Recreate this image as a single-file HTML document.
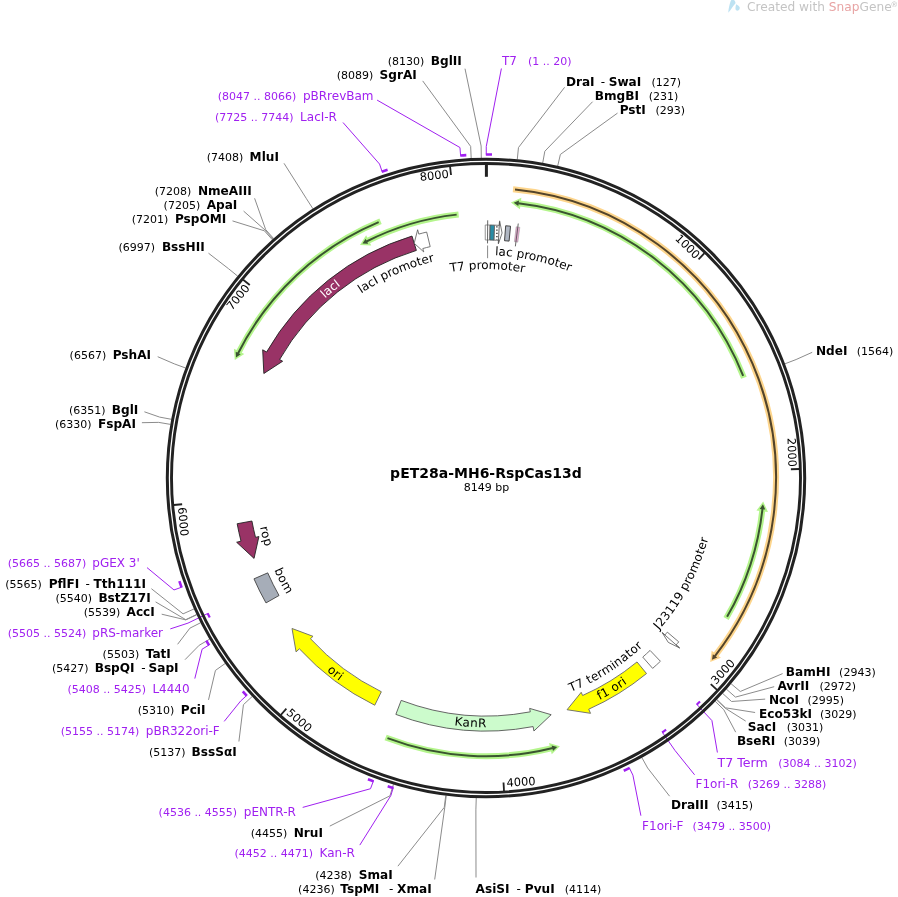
<!DOCTYPE html>
<html><head><meta charset="utf-8"><title>pET28a-MH6-RspCas13d</title>
<style>html,body{margin:0;padding:0;background:#fff;} svg{display:block;will-change:transform;}</style>
</head><body>
<svg width="898" height="897" viewBox="0 0 898 897" font-family="'DejaVu Sans', 'Liberation Sans', sans-serif"><rect width="898" height="897" fill="#fff"/>
<path d="M513.03,189.26 A290.00,290.00 0 0 1 715.04,655.87" fill="none" stroke="#fdd58c" stroke-width="6" stroke-linecap="butt"/>
<polygon points="710.18,661.97 720.87,657.82 711.66,650.76" fill="#fdd58c"/>
<path d="M515.02,189.46 A290.00,290.00 0 0 1 714.74,656.27" fill="none" stroke="#53442a" stroke-width="2"/>
<polygon points="711.94,659.80 717.25,657.59 712.83,654.16" fill="#53442a"/>
<path d="M743.90,377.74 A276.70,276.70 0 0 0 518.66,203.23" fill="none" stroke="#b4f58c" stroke-width="6" stroke-linecap="butt"/>
<polygon points="510.90,202.42 521.37,197.72 519.92,209.23" fill="#b4f58c"/>
<path d="M743.17,375.88 A276.70,276.70 0 0 0 518.16,203.18" fill="none" stroke="#3a5430" stroke-width="2"/>
<polygon points="513.69,202.69 518.99,200.45 518.33,206.01" fill="#3a5430"/>
<path d="M458.63,214.42 A265.00,265.00 0 0 0 366.90,241.27" fill="none" stroke="#b4f58c" stroke-width="6" stroke-linecap="butt"/>
<polygon points="359.99,244.88 366.13,235.18 371.26,245.58" fill="#b4f58c"/>
<path d="M456.64,214.63 A265.00,265.00 0 0 0 366.46,241.50" fill="none" stroke="#3a5430" stroke-width="2"/>
<polygon points="362.46,243.56 365.65,238.77 368.16,243.77" fill="#3a5430"/>
<path d="M380.53,221.32 A277.50,277.50 0 0 0 238.21,353.08" fill="none" stroke="#b4f58c" stroke-width="6" stroke-linecap="butt"/>
<polygon points="234.80,360.09 233.95,348.65 244.28,353.94" fill="#b4f58c"/>
<path d="M378.68,222.09 A277.50,277.50 0 0 0 237.98,353.52" fill="none" stroke="#3a5430" stroke-width="2"/>
<polygon points="236.00,357.56 235.71,351.82 240.71,354.34" fill="#3a5430"/>
<path d="M726.07,618.58 A278.20,278.20 0 0 0 762.44,509.26" fill="none" stroke="#b4f58c" stroke-width="6" stroke-linecap="butt"/>
<polygon points="763.21,501.50 767.96,511.94 756.45,510.56" fill="#b4f58c"/>
<path d="M727.07,616.85 A278.20,278.20 0 0 0 762.49,508.77" fill="none" stroke="#3a5430" stroke-width="2"/>
<polygon points="762.95,504.29 765.22,509.58 759.66,508.95" fill="#3a5430"/>
<path d="M385.61,737.45 A278.20,278.20 0 0 0 552.32,748.18" fill="none" stroke="#b4f58c" stroke-width="6" stroke-linecap="butt"/>
<polygon points="559.87,746.21 551.72,754.29 549.03,743.01" fill="#b4f58c"/>
<path d="M387.48,738.17 A278.20,278.20 0 0 0 552.81,748.06" fill="none" stroke="#3a5430" stroke-width="2"/>
<polygon points="557.17,746.94 552.99,750.90 551.65,745.46" fill="#3a5430"/>
<path d="M412.00,236.07 A253.00,253.00 0 0 0 266.59,352.04 L262.68,349.80 L263.85,373.50 L282.63,361.25 L279.60,359.50 A238.00,238.00 0 0 1 416.38,250.41 Z" fill="#993366" stroke="#222" stroke-width="0.9" stroke-linejoin="miter"/>
<path d="M426.67,232.05 A253.00,253.00 0 0 0 418.82,234.08 L417.63,229.74 L414.19,243.24 L423.74,251.92 L422.81,248.54 A238.00,238.00 0 0 1 430.19,246.64 Z" fill="#ffffff" stroke="#555" stroke-width="0.8" stroke-linejoin="miter"/>
<path d="M237.17,523.74 A253.00,253.00 0 0 0 241.00,541.13 L236.65,542.26 L254.04,558.40 L258.92,536.52 L255.53,537.39 A238.00,238.00 0 0 1 251.92,521.02 Z" fill="#993366" stroke="#222" stroke-width="0.9" stroke-linejoin="miter"/>
<path d="M253.97,578.85 A253.00,253.00 0 0 0 265.99,602.92 L279.03,595.51 A238.00,238.00 0 0 1 267.73,572.87 Z" fill="#a6adb8" stroke="#444" stroke-width="0.9" stroke-linejoin="miter"/>
<path d="M374.75,705.23 A253.00,253.00 0 0 1 299.39,648.83 L296.07,651.87 L292.03,628.48 L313.03,636.34 L310.45,638.71 A238.00,238.00 0 0 0 381.34,691.75 Z" fill="#ffff00" stroke="#666" stroke-width="0.9" stroke-linejoin="miter"/>
<path d="M395.85,714.40 A253.00,253.00 0 0 0 533.10,726.58 L533.93,731.00 L551.18,714.69 L529.65,708.40 L530.30,711.84 A238.00,238.00 0 0 1 401.20,700.38 Z" fill="#ccfbcc" stroke="#555" stroke-width="0.9" stroke-linejoin="miter"/>
<path d="M646.53,673.55 A253.00,253.00 0 0 1 588.71,709.21 L590.53,713.33 L567.07,709.73 L581.20,692.31 L582.62,695.51 A238.00,238.00 0 0 0 637.01,661.95 Z" fill="#ffff00" stroke="#666" stroke-width="0.9" stroke-linejoin="miter"/>
<path d="M660.41,661.27 A253.00,253.00 0 0 1 652.63,668.37 L642.75,657.09 A238.00,238.00 0 0 0 650.07,650.41 Z" fill="#ffffff" stroke="#555" stroke-width="0.8" stroke-linejoin="miter"/>
<path d="M678.76,641.86 A253.00,253.00 0 0 1 676.14,644.90 L679.52,647.87 L668.31,642.42 L662.24,632.69 L664.87,635.00 A238.00,238.00 0 0 0 667.34,632.15 Z" fill="#ffffff" stroke="#555" stroke-width="0.8" stroke-linejoin="miter"/>
<line x1="662.01" y1="632.50" x2="679.75" y2="648.07" stroke="#555" stroke-width="0.8"/>
<path d="M485.22,225.00 A253.00,253.00 0 0 1 490.10,225.03 L489.85,240.03 A238.00,238.00 0 0 0 485.27,240.00 Z" fill="#ffffff" stroke="#888" stroke-width="0.9" stroke-linejoin="miter"/>
<path d="M490.10,225.03 A253.00,253.00 0 0 1 494.58,225.15 L494.07,240.14 A238.00,238.00 0 0 0 489.85,240.03 Z" fill="#288ca5" stroke="#555" stroke-width="0.9" stroke-linejoin="miter"/>
<path d="M494.58,225.15 A253.00,253.00 0 0 1 499.38,225.35 L499.62,220.86 L502.08,233.03 L498.40,243.83 L498.59,240.33 A238.00,238.00 0 0 0 494.07,240.14 Z" fill="#ffffff" stroke="#666" stroke-width="0.9" stroke-linejoin="miter"/>
<path d="M505.68,225.77 A253.00,253.00 0 0 1 510.54,226.19 L509.09,241.12 A238.00,238.00 0 0 0 504.52,240.72 Z" fill="#b0b7c3" stroke="#333" stroke-width="0.9" stroke-linejoin="miter"/>
<path d="M516.16,226.80 A253.00,253.00 0 0 1 519.84,227.27 L517.83,242.14 A238.00,238.00 0 0 0 514.38,241.70 Z" fill="#e3a6cc" stroke="#999" stroke-width="0.5" stroke-linejoin="miter"/>
<line x1="487.54" y1="243.41" x2="487.69" y2="220.31" stroke="#555" stroke-width="0.9"/>
<line x1="498.32" y1="243.32" x2="499.44" y2="221.85" stroke="#555" stroke-width="0.9"/>
<line x1="515.36" y1="246.35" x2="518.25" y2="223.54" stroke="#555" stroke-width="0.9"/>
<line x1="496.9" y1="226.3" x2="496.9" y2="239.5" stroke="#222" stroke-width="1.3" stroke-dasharray="1.3 1.9"/>
<line x1="487.6" y1="245.5" x2="487.6" y2="258.2" stroke="#888" stroke-width="1"/>
<polyline points="465.00,68.70 481.14,146.04 481.31,158.03" fill="none" stroke="#8c8c8c" stroke-width="1.0"/>
<polyline points="422.70,80.90 470.65,146.36 471.20,158.34" fill="none" stroke="#8c8c8c" stroke-width="1.0"/>
<polyline points="284.00,163.30 306.47,198.73 312.96,208.82" fill="none" stroke="#8c8c8c" stroke-width="1.0"/>
<polyline points="254.60,198.30 265.70,229.62 273.67,238.60" fill="none" stroke="#8c8c8c" stroke-width="1.0"/>
<polyline points="243.60,211.10 265.13,230.13 273.11,239.09" fill="none" stroke="#8c8c8c" stroke-width="1.0"/>
<polyline points="232.50,220.90 264.37,230.81 272.38,239.75" fill="none" stroke="#8c8c8c" stroke-width="1.0"/>
<polyline points="208.50,253.20 228.38,268.58 237.69,276.15" fill="none" stroke="#8c8c8c" stroke-width="1.0"/>
<polyline points="157.70,356.70 174.24,363.84 185.51,367.97" fill="none" stroke="#8c8c8c" stroke-width="1.0"/>
<polyline points="144.40,411.80 159.63,417.10 171.43,419.30" fill="none" stroke="#8c8c8c" stroke-width="1.0"/>
<polyline points="141.90,422.70 158.69,422.39 170.52,424.40" fill="none" stroke="#8c8c8c" stroke-width="1.0"/>
<polyline points="151.40,588.70 183.07,613.85 194.02,608.94" fill="none" stroke="#8c8c8c" stroke-width="1.0"/>
<polyline points="155.60,601.90 185.74,619.66 196.59,614.54" fill="none" stroke="#8c8c8c" stroke-width="1.0"/>
<polyline points="161.70,614.20 185.85,619.90 196.70,614.77" fill="none" stroke="#8c8c8c" stroke-width="1.0"/>
<polyline points="177.60,644.30 189.90,628.17 200.61,622.74" fill="none" stroke="#8c8c8c" stroke-width="1.0"/>
<polyline points="185.00,659.70 199.21,645.25 209.57,639.21" fill="none" stroke="#8c8c8c" stroke-width="1.0"/>
<polyline points="208.50,699.90 215.44,670.41 225.22,663.46" fill="none" stroke="#8c8c8c" stroke-width="1.0"/>
<polyline points="238.90,741.50 243.43,704.68 252.20,696.49" fill="none" stroke="#8c8c8c" stroke-width="1.0"/>
<polyline points="329.80,826.10 389.99,795.81 393.46,784.33" fill="none" stroke="#8c8c8c" stroke-width="1.0"/>
<polyline points="397.90,866.20 444.26,807.37 445.77,795.46" fill="none" stroke="#8c8c8c" stroke-width="1.0"/>
<polyline points="434.70,879.50 444.77,807.43 446.26,795.52" fill="none" stroke="#8c8c8c" stroke-width="1.0"/>
<polyline points="564.60,87.30 518.46,147.59 517.28,159.53" fill="none" stroke="#8c8c8c" stroke-width="1.0"/>
<polyline points="592.60,101.70 544.82,151.25 542.69,163.06" fill="none" stroke="#8c8c8c" stroke-width="1.0"/>
<polyline points="617.50,113.10 560.37,154.44 557.68,166.13" fill="none" stroke="#8c8c8c" stroke-width="1.0"/>
<polyline points="812.20,352.30 796.14,359.53 784.93,363.81" fill="none" stroke="#8c8c8c" stroke-width="1.0"/>
<polyline points="782.60,673.60 740.28,691.47 731.09,683.75" fill="none" stroke="#8c8c8c" stroke-width="1.0"/>
<polyline points="774.20,686.70 735.44,697.10 726.42,689.18" fill="none" stroke="#8c8c8c" stroke-width="1.0"/>
<polyline points="765.20,699.10 731.52,701.49 722.64,693.41" fill="none" stroke="#8c8c8c" stroke-width="1.0"/>
<polyline points="755.10,712.50 725.57,707.84 716.91,699.54" fill="none" stroke="#8c8c8c" stroke-width="1.0"/>
<polyline points="745.70,721.10 725.22,708.21 716.57,699.89" fill="none" stroke="#8c8c8c" stroke-width="1.0"/>
<polyline points="735.70,732.20 723.79,709.69 715.20,701.31" fill="none" stroke="#8c8c8c" stroke-width="1.0"/>
<polyline points="669.60,796.20 647.64,767.99 641.80,757.51" fill="none" stroke="#8c8c8c" stroke-width="1.0"/>
<polyline points="476.00,877.50 475.89,809.85 476.26,797.85" fill="none" stroke="#8c8c8c" stroke-width="1.0"/>
<polyline points="377.10,100.10 459.96,147.52 460.58,155.50" fill="none" stroke="#a020f0" stroke-width="1.0"/>
<path d="M460.19,155.53 A323.50,323.50 0 0 1 466.31,155.10" fill="none" stroke="#a020f0" stroke-width="2.6"/>
<polyline points="343.00,122.50 379.55,164.06 382.12,171.63" fill="none" stroke="#a020f0" stroke-width="1.0"/>
<path d="M381.74,171.76 A323.50,323.50 0 0 1 387.57,169.84" fill="none" stroke="#a020f0" stroke-width="2.6"/>
<polyline points="147.00,567.60 173.97,589.94 181.50,587.24" fill="none" stroke="#a020f0" stroke-width="1.0"/>
<path d="M181.64,587.62 A323.50,323.50 0 0 1 179.37,581.11" fill="none" stroke="#a020f0" stroke-width="2.6"/>
<polyline points="170.30,628.90 187.96,623.14 207.74,613.51" fill="none" stroke="#a020f0" stroke-width="1.0"/>
<path d="M209.76,617.57 A309.50,309.50 0 0 1 207.61,613.24" fill="none" stroke="#a020f0" stroke-width="2.2"/>
<polyline points="194.80,678.60 202.12,649.18 208.97,645.05" fill="none" stroke="#a020f0" stroke-width="1.0"/>
<path d="M209.17,645.39 A323.50,323.50 0 0 1 206.30,640.54" fill="none" stroke="#a020f0" stroke-width="2.6"/>
<polyline points="224.20,721.40 240.68,700.96 246.60,695.58" fill="none" stroke="#a020f0" stroke-width="1.0"/>
<path d="M246.87,695.88 A323.50,323.50 0 0 1 242.78,691.30" fill="none" stroke="#a020f0" stroke-width="2.6"/>
<polyline points="302.70,807.40 370.51,788.73 373.30,781.23" fill="none" stroke="#a020f0" stroke-width="1.0"/>
<path d="M373.68,781.37 A323.50,323.50 0 0 1 367.94,779.19" fill="none" stroke="#a020f0" stroke-width="2.6"/>
<polyline points="359.80,845.10 390.87,795.56 393.16,787.89" fill="none" stroke="#a020f0" stroke-width="1.0"/>
<path d="M393.55,788.01 A323.50,323.50 0 0 1 387.68,786.20" fill="none" stroke="#a020f0" stroke-width="2.6"/>
<polyline points="501.40,68.50 486.26,146.50 486.25,154.50" fill="none" stroke="#a020f0" stroke-width="1.0"/>
<path d="M485.85,154.50 A323.50,323.50 0 0 1 491.99,154.56" fill="none" stroke="#a020f0" stroke-width="2.6"/>
<polyline points="717.40,752.50 711.92,720.59 696.93,704.49" fill="none" stroke="#a020f0" stroke-width="1.0"/>
<path d="M700.05,701.54 A309.50,309.50 0 0 1 696.71,704.70" fill="none" stroke="#a020f0" stroke-width="2.2"/>
<polyline points="694.60,774.80 674.93,750.39 662.39,732.31" fill="none" stroke="#a020f0" stroke-width="1.0"/>
<path d="M666.10,729.70 A309.50,309.50 0 0 1 662.15,732.48" fill="none" stroke="#a020f0" stroke-width="2.2"/>
<polyline points="640.90,815.70 632.92,775.17 629.37,767.99" fill="none" stroke="#a020f0" stroke-width="1.0"/>
<path d="M629.73,767.82 A323.50,323.50 0 0 1 623.75,770.71" fill="none" stroke="#a020f0" stroke-width="2.6"/>
<circle cx="486.0" cy="478.0" r="318.7" fill="none" stroke="#222" stroke-width="3.0"/>
<circle cx="486.0" cy="478.0" r="314.5" fill="none" stroke="#222" stroke-width="2.9"/>
<line x1="486.4" y1="164.3" x2="486.4" y2="176.8" stroke="#222" stroke-width="3"/>
<line x1="704.47" y1="253.16" x2="698.55" y2="259.26" stroke="#222" stroke-width="1.8"/>
<text x="0" y="0" font-size="11.4" text-anchor="end" transform="translate(695.29,259.45) rotate(44.18)">1000</text>
<line x1="799.37" y1="469.00" x2="790.87" y2="469.24" stroke="#222" stroke-width="1.8"/>
<text x="0" y="0" font-size="11.4" text-anchor="end" transform="translate(788.40,467.11) rotate(88.35)">2000</text>
<line x1="717.02" y1="689.92" x2="710.76" y2="684.18" stroke="#222" stroke-width="1.8"/>
<text x="0" y="0" font-size="11.4" text-anchor="start" transform="translate(716.02,684.93) rotate(-47.47)">3000</text>
<line x1="504.00" y1="790.98" x2="503.51" y2="782.50" stroke="#222" stroke-width="1.8"/>
<text x="0" y="0" font-size="11.4" text-anchor="start" transform="translate(506.76,786.70) rotate(-3.29)">4000</text>
<line x1="280.80" y1="715.01" x2="286.36" y2="708.58" stroke="#222" stroke-width="1.8"/>
<text x="0" y="0" font-size="11.4" text-anchor="start" transform="translate(285.76,713.86) rotate(40.89)">5000</text>
<line x1="173.66" y1="504.98" x2="182.13" y2="504.25" stroke="#222" stroke-width="1.8"/>
<text x="0" y="0" font-size="11.4" text-anchor="start" transform="translate(178.02,507.61) rotate(85.06)">6000</text>
<line x1="243.19" y1="279.69" x2="249.78" y2="285.06" stroke="#222" stroke-width="1.8"/>
<text x="0" y="0" font-size="11.4" text-anchor="end" transform="translate(250.25,288.29) rotate(-50.76)">7000</text>
<line x1="450.06" y1="166.57" x2="451.04" y2="175.01" stroke="#222" stroke-width="1.8"/>
<text x="0" y="0" font-size="11.4" text-anchor="end" transform="translate(449.13,177.65) rotate(-6.58)">8000</text>
<text x="387.70" y="65.00" font-size="11.0" font-weight="normal" fill="#000" text-anchor="start">(8130)</text>
<text x="430.80" y="65.00" font-size="12.1" font-weight="bold" fill="#000" text-anchor="start">BglII</text>
<text x="336.70" y="78.70" font-size="11.0" font-weight="normal" fill="#000" text-anchor="start">(8089)</text>
<text x="379.60" y="78.70" font-size="12.1" font-weight="bold" fill="#000" text-anchor="start">SgrAI</text>
<text x="206.70" y="160.80" font-size="11.0" font-weight="normal" fill="#000" text-anchor="start">(7408)</text>
<text x="249.60" y="160.80" font-size="12.1" font-weight="bold" fill="#000" text-anchor="start">MluI</text>
<text x="154.80" y="195.10" font-size="11.0" font-weight="normal" fill="#000" text-anchor="start">(7208)</text>
<text x="197.90" y="195.10" font-size="12.1" font-weight="bold" fill="#000" text-anchor="start">NmeAIII</text>
<text x="163.60" y="209.10" font-size="11.0" font-weight="normal" fill="#000" text-anchor="start">(7205)</text>
<text x="206.70" y="209.10" font-size="12.1" font-weight="bold" fill="#000" text-anchor="start">ApaI</text>
<text x="131.70" y="223.30" font-size="11.0" font-weight="normal" fill="#000" text-anchor="start">(7201)</text>
<text x="174.90" y="223.30" font-size="12.1" font-weight="bold" fill="#000" text-anchor="start">PspOMI</text>
<text x="118.50" y="250.80" font-size="11.0" font-weight="normal" fill="#000" text-anchor="start">(6997)</text>
<text x="161.90" y="250.80" font-size="12.1" font-weight="bold" fill="#000" text-anchor="start">BssHII</text>
<text x="69.60" y="358.90" font-size="11.0" font-weight="normal" fill="#000" text-anchor="start">(6567)</text>
<text x="112.70" y="358.90" font-size="12.1" font-weight="bold" fill="#000" text-anchor="start">PshAI</text>
<text x="68.90" y="413.50" font-size="11.0" font-weight="normal" fill="#000" text-anchor="start">(6351)</text>
<text x="111.80" y="413.50" font-size="12.1" font-weight="bold" fill="#000" text-anchor="start">BglI</text>
<text x="55.00" y="427.70" font-size="11.0" font-weight="normal" fill="#000" text-anchor="start">(6330)</text>
<text x="98.00" y="427.70" font-size="12.1" font-weight="bold" fill="#000" text-anchor="start">FspAI</text>
<text x="5.30" y="588.00" font-size="11.0" font-weight="normal" fill="#000" text-anchor="start">(5565)</text>
<text x="48.70" y="588.00" font-size="12.1" font-weight="bold" fill="#000" text-anchor="start">PflFI</text>
<text x="85.40" y="588.00" font-size="12.1" font-weight="normal" fill="#000" text-anchor="start">-</text>
<text x="93.50" y="588.00" font-size="12.1" font-weight="bold" fill="#000" text-anchor="start">Tth111I</text>
<text x="55.50" y="601.90" font-size="11.0" font-weight="normal" fill="#000" text-anchor="start">(5540)</text>
<text x="98.40" y="601.90" font-size="12.1" font-weight="bold" fill="#000" text-anchor="start">BstZ17I</text>
<text x="83.70" y="616.10" font-size="11.0" font-weight="normal" fill="#000" text-anchor="start">(5539)</text>
<text x="126.60" y="616.10" font-size="12.1" font-weight="bold" fill="#000" text-anchor="start">AccI</text>
<text x="102.60" y="657.80" font-size="11.0" font-weight="normal" fill="#000" text-anchor="start">(5503)</text>
<text x="145.70" y="657.80" font-size="12.1" font-weight="bold" fill="#000" text-anchor="start">TatI</text>
<text x="51.90" y="671.80" font-size="11.0" font-weight="normal" fill="#000" text-anchor="start">(5427)</text>
<text x="94.70" y="671.80" font-size="12.1" font-weight="bold" fill="#000" text-anchor="start">BspQI</text>
<text x="141.30" y="671.80" font-size="12.1" font-weight="normal" fill="#000" text-anchor="start">-</text>
<text x="148.60" y="671.80" font-size="12.1" font-weight="bold" fill="#000" text-anchor="start">SapI</text>
<text x="137.70" y="713.60" font-size="11.0" font-weight="normal" fill="#000" text-anchor="start">(5310)</text>
<text x="180.80" y="713.60" font-size="12.1" font-weight="bold" fill="#000" text-anchor="start">PciI</text>
<text x="148.90" y="755.90" font-size="11.0" font-weight="normal" fill="#000" text-anchor="start">(5137)</text>
<text x="191.60" y="755.90" font-size="12.1" font-weight="bold" fill="#000" text-anchor="start">BssS&#945;I</text>
<text x="250.80" y="836.80" font-size="11.0" font-weight="normal" fill="#000" text-anchor="start">(4455)</text>
<text x="293.70" y="836.80" font-size="12.1" font-weight="bold" fill="#000" text-anchor="start">NruI</text>
<text x="315.20" y="878.50" font-size="11.0" font-weight="normal" fill="#000" text-anchor="start">(4238)</text>
<text x="358.70" y="878.50" font-size="12.1" font-weight="bold" fill="#000" text-anchor="start">SmaI</text>
<text x="298.10" y="892.70" font-size="11.0" font-weight="normal" fill="#000" text-anchor="start">(4236)</text>
<text x="340.30" y="892.70" font-size="12.1" font-weight="bold" fill="#000" text-anchor="start">TspMI</text>
<text x="389.10" y="892.70" font-size="12.1" font-weight="normal" fill="#000" text-anchor="start">-</text>
<text x="397.10" y="892.70" font-size="12.1" font-weight="bold" fill="#000" text-anchor="start">XmaI</text>
<text x="565.90" y="85.70" font-size="12.1" font-weight="bold" fill="#000" text-anchor="start">DraI</text>
<text x="600.70" y="85.70" font-size="12.1" font-weight="normal" fill="#000" text-anchor="start">-</text>
<text x="608.70" y="85.70" font-size="12.1" font-weight="bold" fill="#000" text-anchor="start">SwaI</text>
<text x="651.40" y="85.70" font-size="11.0" font-weight="normal" fill="#000" text-anchor="start">(127)</text>
<text x="594.80" y="100.00" font-size="12.1" font-weight="bold" fill="#000" text-anchor="start">BmgBI</text>
<text x="648.80" y="100.00" font-size="11.0" font-weight="normal" fill="#000" text-anchor="start">(231)</text>
<text x="619.70" y="113.70" font-size="12.1" font-weight="bold" fill="#000" text-anchor="start">PstI</text>
<text x="655.40" y="113.70" font-size="11.0" font-weight="normal" fill="#000" text-anchor="start">(293)</text>
<text x="816.00" y="354.70" font-size="12.1" font-weight="bold" fill="#000" text-anchor="start">NdeI</text>
<text x="856.70" y="354.70" font-size="11.0" font-weight="normal" fill="#000" text-anchor="start">(1564)</text>
<text x="785.80" y="675.60" font-size="12.1" font-weight="bold" fill="#000" text-anchor="start">BamHI</text>
<text x="839.10" y="675.60" font-size="11.0" font-weight="normal" fill="#000" text-anchor="start">(2943)</text>
<text x="777.40" y="689.70" font-size="12.1" font-weight="bold" fill="#000" text-anchor="start">AvrII</text>
<text x="819.50" y="689.70" font-size="11.0" font-weight="normal" fill="#000" text-anchor="start">(2972)</text>
<text x="769.00" y="703.70" font-size="12.1" font-weight="bold" fill="#000" text-anchor="start">NcoI</text>
<text x="807.50" y="703.70" font-size="11.0" font-weight="normal" fill="#000" text-anchor="start">(2995)</text>
<text x="759.00" y="717.70" font-size="12.1" font-weight="bold" fill="#000" text-anchor="start">Eco53kI</text>
<text x="819.90" y="717.70" font-size="11.0" font-weight="normal" fill="#000" text-anchor="start">(3029)</text>
<text x="747.70" y="731.20" font-size="12.1" font-weight="bold" fill="#000" text-anchor="start">SacI</text>
<text x="786.80" y="731.20" font-size="11.0" font-weight="normal" fill="#000" text-anchor="start">(3031)</text>
<text x="736.90" y="745.20" font-size="12.1" font-weight="bold" fill="#000" text-anchor="start">BseRI</text>
<text x="783.80" y="745.20" font-size="11.0" font-weight="normal" fill="#000" text-anchor="start">(3039)</text>
<text x="670.90" y="808.80" font-size="12.1" font-weight="bold" fill="#000" text-anchor="start">DraIII</text>
<text x="716.50" y="808.80" font-size="11.0" font-weight="normal" fill="#000" text-anchor="start">(3415)</text>
<text x="475.60" y="893.10" font-size="12.1" font-weight="bold" fill="#000" text-anchor="start">AsiSI</text>
<text x="516.60" y="893.10" font-size="12.1" font-weight="normal" fill="#000" text-anchor="start">-</text>
<text x="524.80" y="893.10" font-size="12.1" font-weight="bold" fill="#000" text-anchor="start">PvuI</text>
<text x="564.70" y="893.10" font-size="11.0" font-weight="normal" fill="#000" text-anchor="start">(4114)</text>
<text x="217.70" y="99.80" font-size="11.0" font-weight="normal" fill="#a020f0" text-anchor="start">(8047 .. 8066)</text>
<text x="302.90" y="99.80" font-size="12.0" font-weight="normal" fill="#a020f0" text-anchor="start">pBRrevBam</text>
<text x="214.90" y="120.60" font-size="11.0" font-weight="normal" fill="#a020f0" text-anchor="start">(7725 .. 7744)</text>
<text x="300.10" y="120.60" font-size="12.0" font-weight="normal" fill="#a020f0" text-anchor="start">LacI-R</text>
<text x="7.80" y="566.70" font-size="11.0" font-weight="normal" fill="#a020f0" text-anchor="start">(5665 .. 5687)</text>
<text x="92.30" y="566.70" font-size="12.0" font-weight="normal" fill="#a020f0" text-anchor="start">pGEX 3'</text>
<text x="7.80" y="637.00" font-size="11.0" font-weight="normal" fill="#a020f0" text-anchor="start">(5505 .. 5524)</text>
<text x="92.30" y="637.00" font-size="12.0" font-weight="normal" fill="#a020f0" text-anchor="start">pRS-marker</text>
<text x="67.40" y="692.50" font-size="11.0" font-weight="normal" fill="#a020f0" text-anchor="start">(5408 .. 5425)</text>
<text x="152.40" y="692.50" font-size="12.0" font-weight="normal" fill="#a020f0" text-anchor="start">L4440</text>
<text x="60.80" y="735.00" font-size="11.0" font-weight="normal" fill="#a020f0" text-anchor="start">(5155 .. 5174)</text>
<text x="145.80" y="735.00" font-size="12.0" font-weight="normal" fill="#a020f0" text-anchor="start">pBR322ori-F</text>
<text x="158.60" y="815.70" font-size="11.0" font-weight="normal" fill="#a020f0" text-anchor="start">(4536 .. 4555)</text>
<text x="243.80" y="815.70" font-size="12.0" font-weight="normal" fill="#a020f0" text-anchor="start">pENTR-R</text>
<text x="234.40" y="856.80" font-size="11.0" font-weight="normal" fill="#a020f0" text-anchor="start">(4452 .. 4471)</text>
<text x="319.60" y="856.80" font-size="12.0" font-weight="normal" fill="#a020f0" text-anchor="start">Kan-R</text>
<text x="502.00" y="65.10" font-size="12.0" font-weight="normal" fill="#a020f0" text-anchor="start">T7</text>
<text x="527.90" y="65.10" font-size="11.0" font-weight="normal" fill="#a020f0" text-anchor="start">(1 .. 20)</text>
<text x="717.60" y="767.00" font-size="12.6" font-weight="normal" fill="#a020f0" text-anchor="start">T7 Term</text>
<text x="778.20" y="767.00" font-size="11.0" font-weight="normal" fill="#a020f0" text-anchor="start">(3084 .. 3102)</text>
<text x="695.50" y="788.40" font-size="12.0" font-weight="normal" fill="#a020f0" text-anchor="start">F1ori-R</text>
<text x="747.80" y="788.40" font-size="11.0" font-weight="normal" fill="#a020f0" text-anchor="start">(3269 .. 3288)</text>
<text x="642.10" y="829.80" font-size="12.0" font-weight="normal" fill="#a020f0" text-anchor="start">F1ori-F</text>
<text x="692.60" y="829.80" font-size="11.0" font-weight="normal" fill="#a020f0" text-anchor="start">(3479 .. 3500)</text>
<path id="tp218" d="M248.09,517.60 A241.18,241.18 0 0 1 570.66,252.17" fill="none"/>
<text font-size="12.0" fill="#fff" font-weight="normal"><textPath href="#tp218" startOffset="50%" text-anchor="middle">lacI</textPath></text>
<path id="tp220" d="M264.66,453.56 A222.68,222.68 0 0 1 617.83,298.54" fill="none"/>
<text font-size="12.0" fill="#000" font-weight="normal"><textPath href="#tp220" startOffset="50%" text-anchor="middle">lacI promoter</textPath></text>
<path id="tp222" d="M323.00,313.86 A231.32,231.32 0 0 0 425.35,701.23" fill="none"/>
<text font-size="12.0" fill="#000" font-weight="normal"><textPath href="#tp222" startOffset="50%" text-anchor="middle" textLength="20.40" lengthAdjust="spacing">rop</textPath></text>
<path id="tp224" d="M292.55,351.89 A230.92,230.92 0 0 0 473.51,708.58" fill="none"/>
<text font-size="12.0" fill="#000" font-weight="normal"><textPath href="#tp224" startOffset="50%" text-anchor="middle" textLength="27.69" lengthAdjust="spacing">bom</textPath></text>
<path id="tp226" d="M237.94,444.46 A250.32,250.32 0 0 0 580.99,709.60" fill="none"/>
<text font-size="12.0" fill="#000" font-weight="normal"><textPath href="#tp226" startOffset="50%" text-anchor="middle" textLength="16.17" lengthAdjust="spacing">ori</textPath></text>
<path id="tp228" d="M262.68,588.86 A249.32,249.32 0 0 0 693.66,615.97" fill="none"/>
<text font-size="12.0" fill="#000" font-weight="normal"><textPath href="#tp228" startOffset="50%" text-anchor="middle" textLength="32.08" lengthAdjust="spacing">KanR</textPath></text>
<path id="tp230" d="M364.37,695.64 A249.32,249.32 0 0 0 735.30,474.52" fill="none"/>
<text font-size="12.0" fill="#000" font-weight="normal"><textPath href="#tp230" startOffset="50%" text-anchor="middle" textLength="32.42" lengthAdjust="spacing">f1 ori</textPath></text>
<path id="tp232" d="M379.03,681.75 A230.12,230.12 0 0 0 715.93,468.76" fill="none"/>
<text font-size="12.0" fill="#000" font-weight="normal"><textPath href="#tp232" startOffset="50%" text-anchor="middle" textLength="85.78" lengthAdjust="spacing">T7 terminator</textPath></text>
<path id="tp234" d="M492.83,708.22 A230.32,230.32 0 0 0 681.96,356.97" fill="none"/>
<text font-size="12.0" fill="#000" font-weight="normal"><textPath href="#tp234" startOffset="50%" text-anchor="middle" textLength="105.16" lengthAdjust="spacing">J23119 promoter</textPath></text>
<path id="tp236" d="M305.75,372.25 A208.98,208.98 0 0 1 667.71,374.78" fill="none"/>
<text font-size="12.0" fill="#000" font-weight="normal"><textPath href="#tp236" startOffset="50%" text-anchor="middle">T7 promoter</textPath></text>
<path id="tp238" d="M320.96,328.35 A222.78,222.78 0 0 1 698.12,409.90" fill="none"/>
<text font-size="12.0" fill="#000" font-weight="normal"><textPath href="#tp238" startOffset="50%" text-anchor="middle">lac promoter</textPath></text>
<text x="486.00" y="477.90" font-size="14.0" font-weight="bold" fill="#000" text-anchor="middle">pET28a-MH6-RspCas13d</text>
<text x="486.40" y="490.50" font-size="11.0" font-weight="normal" fill="#000" text-anchor="middle">8149 bp</text>
<path d="M728.3,12.8 C728.6,8.5 729.8,2.5 731.3,0 L734,0 C735,1 735.8,2.4 735.4,3.4 C733.4,5.2 731.2,9.2 728.3,12.8 Z" fill="#bde2f2"/>
<path d="M736.2,4.2 C737.6,5.2 739.8,6.1 739.8,7.7 C739.8,9.6 738.5,10.7 737.1,10.7 C735.8,10.7 735.3,9.2 735.5,7.6 C735.6,6.2 735.9,5.1 736.2,4.2 Z" fill="#bde2f2"/>
<text x="747.0" y="10.9" font-size="12.2" fill="#c4c4c4">Created with <tspan fill="#e8a4a4">Snap</tspan>Gene</text>
<text x="890.6" y="7.0" font-size="7.5" fill="#c4c4c4">®</text></svg>
</body></html>
